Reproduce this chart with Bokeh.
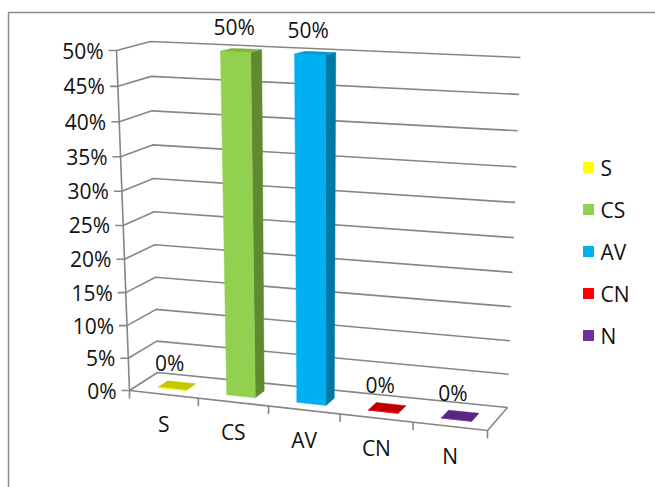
from bokeh.plotting import figure
from bokeh.models import Range1d
from bokeh.core.properties import value
from bokeh.embed import file_html
from bokeh.resources import INLINE

# ---- data ----
categories = ["S", "CS", "AV", "CN", "N"]
shares = [0.0, 0.5, 0.5, 0.0, 0.0]
value_labels = ["0%", "50%", "50%", "0%", "0%"]
tick_values = [0.0, 0.05, 0.10, 0.15, 0.20, 0.25, 0.30, 0.35, 0.40, 0.45, 0.50]
tick_labels = ["0%", "5%", "10%", "15%", "20%", "25%", "30%", "35%", "40%", "45%", "50%"]
y_max = 0.5

# ---- styles ----
front_colors = ["#FFFF00", "#92D050", "#00B0F0", "#FF0000", "#7030A0"]
side_colors = ["#A8A800", "#5F8A30", "#0078A6", "#A00000", "#4A1E6E"]
top_colors = ["#C8C800", "#7DB540", "#0098D2", "#C00000", "#5B2585"]
legend_colors = ["#FFFF00", "#92D050", "#00B0F0", "#FF0000", "#7030A0"]
grid_color = "#868686"
text_color = "#111111"
font = value("Open Sans")
font_size = "21px"

W, H = 655, 487

# screen-space corners of the 3D plot box, keyed by (u, t, d):
# u = across categories, t = value fraction, d = depth (0 front, 1 back)
corners = {
    (0, 0, 0): (129, 390), (1, 0, 0): (487, 430),
    (0, 1, 0): (116, 50), (1, 1, 0): (494, 63),
    (0, 0, 1): (157, 372), (1, 0, 1): (507, 407),
    (0, 1, 1): (150, 41), (1, 1, 1): (520, 57),
}


def persp(s, k):
    # one-dimensional perspective foreshortening
    return s / (s + k * (1 - s))


def proj(u, t, d):
    uu = persp(u, 1.05)
    tt = persp(t, 1.06)
    x = y = 0.0
    for (a, b, c), (px, py) in corners.items():
        w = (uu if a else 1 - uu) * (tt if b else 1 - tt) * (d if c else 1 - d)
        x += w * px
        y += w * py
    return x, y


p = figure(width=W, height=H, x_range=Range1d(0, W), y_range=Range1d(H, 0),
           output_backend="svg", toolbar_location=None, min_border=0)
p.axis.visible = False
p.grid.visible = False
p.outline_line_color = None
p.background_fill_color = "white"

# chart frame
p.line([8, 8, W], [H, 12, 12], line_color="#8a8a8a", line_width=1.5)

# gridlines over the left and back walls
for v in tick_values:
    t = v / y_max
    pts = [proj(0, t, 0), proj(0, t, 1), proj(1, t, 1)]
    p.line([q[0] for q in pts], [q[1] for q in pts], line_color=grid_color, line_width=1.6)

# floor front and right edges, vertical axis
pts = [proj(0, 0, 0), proj(1, 0, 0), proj(1, 0, 1)]
p.line([q[0] for q in pts], [q[1] for q in pts], line_color=grid_color, line_width=1.6)
a0, a1 = proj(0, 0, 0), proj(0, 1, 0)
p.line([a0[0], a1[0]], [a0[1], a1[1]], line_color=grid_color, line_width=1.6)

# value axis ticks and labels
tx0, ty0, tx1, ty1 = [], [], [], []
lx, ly = [], []
for v in tick_values:
    x, y = proj(0, v / y_max, 0)
    tx0.append(x - 8); tx1.append(x); ty0.append(y); ty1.append(y)
    lx.append(x - 13); ly.append(y)
p.segment(x0=tx0, y0=ty0, x1=tx1, y1=ty1, line_color=grid_color, line_width=1.6)
p.text(x=lx, y=ly, text=tick_labels, text_font=font, text_font_size=font_size,
       text_align="right", text_baseline="middle", text_color=text_color)

# category ticks and labels
n = len(categories)
cx0, cy0, cx1, cy1 = [], [], [], []
for i in range(n + 1):
    x, y = proj(i / n, 0, 0)
    cx0.append(x); cy0.append(y); cx1.append(x); cy1.append(y + 8)
p.segment(x0=cx0, y0=cy0, x1=cx1, y1=cy1, line_color=grid_color, line_width=1.6)
clx, cly = [], []
for i in range(n):
    x, y = proj((i + 0.5) / n, 0, 0)
    clx.append(x); cly.append(y + 30)
p.text(x=clx, y=cly, text=categories, text_font=font, text_font_size=font_size,
       text_align="center", text_baseline="middle", text_color=text_color)

# bars
half_w = 0.041
d0, d1 = 0.30, 0.65
for i, v in enumerate(shares):
    uc = (i + 0.5) / n
    uL, uR = uc - half_w, uc + half_w
    t = v / y_max
    front = [proj(uL, 0, d0), proj(uR, 0, d0), proj(uR, t, d0), proj(uL, t, d0)]
    side = [proj(uR, 0, d0), proj(uR, 0, d1), proj(uR, t, d1), proj(uR, t, d0)]
    top = [proj(uL, t, d0), proj(uR, t, d0), proj(uR, t, d1), proj(uL, t, d1)]
    for face, col in ((side, side_colors[i]), (top, top_colors[i]), (front, front_colors[i])):
        p.patch([q[0] for q in face], [q[1] for q in face], fill_color=col,
                line_color=col, line_width=0.5)

# data labels above each bar
dlx, dly = [], []
for i, v in enumerate(shares):
    x, y = proj((i + 0.5) / n, v / y_max, (d0 + d1) / 2)
    dlx.append(x - 7); dly.append(y - 23)
p.text(x=dlx, y=dly, text=value_labels, text_font=font, text_font_size=font_size,
       text_align="center", text_baseline="middle", text_color=text_color)

# legend
leg_y = [167 + 42 * i for i in range(n)]
p.rect(x=[588] * n, y=leg_y, width=11, height=11, fill_color=legend_colors,
       line_color=None)
p.text(x=[600] * n, y=leg_y, text=categories, text_font=font, text_font_size=font_size,
       text_align="left", text_baseline="middle", text_color=text_color)

open("out.html", "w").write(file_html(p, INLINE))
